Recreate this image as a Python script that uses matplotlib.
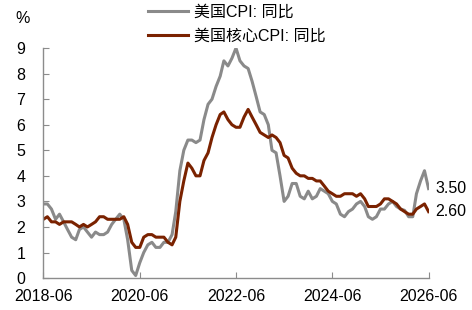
import matplotlib
matplotlib.use("Agg")
import matplotlib.pyplot as plt
import matplotlib.dates as mdates
import pandas as pd

plt.rcParams['font.family'] = ['Liberation Sans', 'Noto Sans CJK SC', 'DejaVu Sans']

months = pd.date_range('2018-06-01', periods=97, freq='MS')

cpi = [2.9, 2.9, 2.7, 2.3, 2.5, 2.2, 1.9,
       1.6, 1.5, 1.9, 2.0, 1.8, 1.6, 1.8, 1.7, 1.7, 1.8, 2.1, 2.3,
       2.5, 2.3, 1.5, 0.3, 0.1, 0.6, 1.0, 1.3, 1.4, 1.2, 1.2, 1.4,
       1.4, 1.7, 2.6, 4.2, 5.0, 5.4, 5.4, 5.3, 5.4, 6.2, 6.8, 7.0,
       7.5, 7.9, 8.5, 8.3, 8.6, 9.0, 8.5, 8.3, 8.2, 7.7, 7.1, 6.5,
       6.4, 6.0, 5.0, 4.9, 4.0, 3.0, 3.2, 3.7, 3.7, 3.2, 3.1, 3.4,
       3.1, 3.2, 3.5, 3.4, 3.3, 3.0, 2.9, 2.5, 2.4, 2.6, 2.7, 2.9,
       3.0, 2.8, 2.4, 2.3, 2.4, 2.7, 2.7, 2.9, 3.0, 2.8, 2.7, 2.65,
       2.4, 2.4, 3.3, 3.8, 4.2, 3.5]

core = [2.3, 2.4, 2.2, 2.2, 2.1, 2.2, 2.2,
        2.2, 2.1, 2.0, 2.1, 2.0, 2.1, 2.2, 2.4, 2.4, 2.3, 2.3, 2.3,
        2.3, 2.4, 2.1, 1.4, 1.2, 1.2, 1.6, 1.7, 1.7, 1.6, 1.6, 1.6,
        1.4, 1.3, 1.6, 3.0, 3.8, 4.5, 4.3, 4.0, 4.0, 4.6, 4.9, 5.5,
        6.0, 6.4, 6.5, 6.2, 6.0, 5.9, 5.9, 6.3, 6.6, 6.3, 6.0, 5.7,
        5.6, 5.5, 5.6, 5.5, 5.3, 4.8, 4.7, 4.3, 4.1, 4.0, 4.0, 3.9,
        3.9, 3.8, 3.8, 3.6, 3.4, 3.3, 3.2, 3.2, 3.3, 3.3, 3.3, 3.2,
        3.3, 3.1, 2.8, 2.8, 2.8, 2.9, 3.1, 3.1, 3.0, 2.9, 2.7, 2.6,
        2.5, 2.5, 2.7, 2.8, 2.9, 2.6]

tick_dates = pd.to_datetime(['2018-06-01', '2020-06-01', '2022-06-01', '2024-06-01', '2026-06-01'])

gray = '#8a8a8a'
red = '#7a2200'
axis_col = '#8c8c8c'

fig = plt.figure(figsize=(4.72, 3.10), dpi=100)
ax = fig.add_axes([0.092, 0.103, 0.816, 0.742])

ax.plot(months, cpi, color=gray, lw=2.2, label='美国CPI: 同比')
ax.plot(months, core, color=red, lw=2.2, label='美国核心CPI: 同比')

ax.set_ylim(0, 9)
ax.set_yticks(range(0, 10))
ax.set_xlim(months[0], months[-1])
ax.set_xticks(tick_dates)
ax.xaxis.set_major_formatter(mdates.DateFormatter('%Y-%m'))

for s in ['top', 'right']:
    ax.spines[s].set_visible(False)
for s in ['left', 'bottom']:
    ax.spines[s].set_color(axis_col)
    ax.spines[s].set_linewidth(1.0)

ax.tick_params(axis='y', direction='in', length=4, color=axis_col, labelsize=11.5, pad=13)
ax.tick_params(axis='x', direction='in', length=4, color=axis_col, labelsize=11.5, pad=8)

# end labels
ax.annotate('%.2f' % cpi[-1], (months[-1], cpi[-1]), xytext=(5, 0), textcoords='offset points',
            va='center', ha='left', fontsize=11.5, annotation_clip=False)
ax.annotate('%.2f' % core[-1], (months[-1], core[-1]), xytext=(5, 0), textcoords='offset points',
            va='center', ha='left', fontsize=11.5, annotation_clip=False)

fig.text(0.032, 0.94, '%', fontsize=11.5, va='center', ha='left')

fig.legend(loc='upper left', bbox_to_anchor=(0.30, 1.005), frameon=False, fontsize=11.5,
           handlelength=2.5, handletextpad=0.4, labelspacing=0.55, borderaxespad=0)

fig.savefig('out.png', dpi=100)
